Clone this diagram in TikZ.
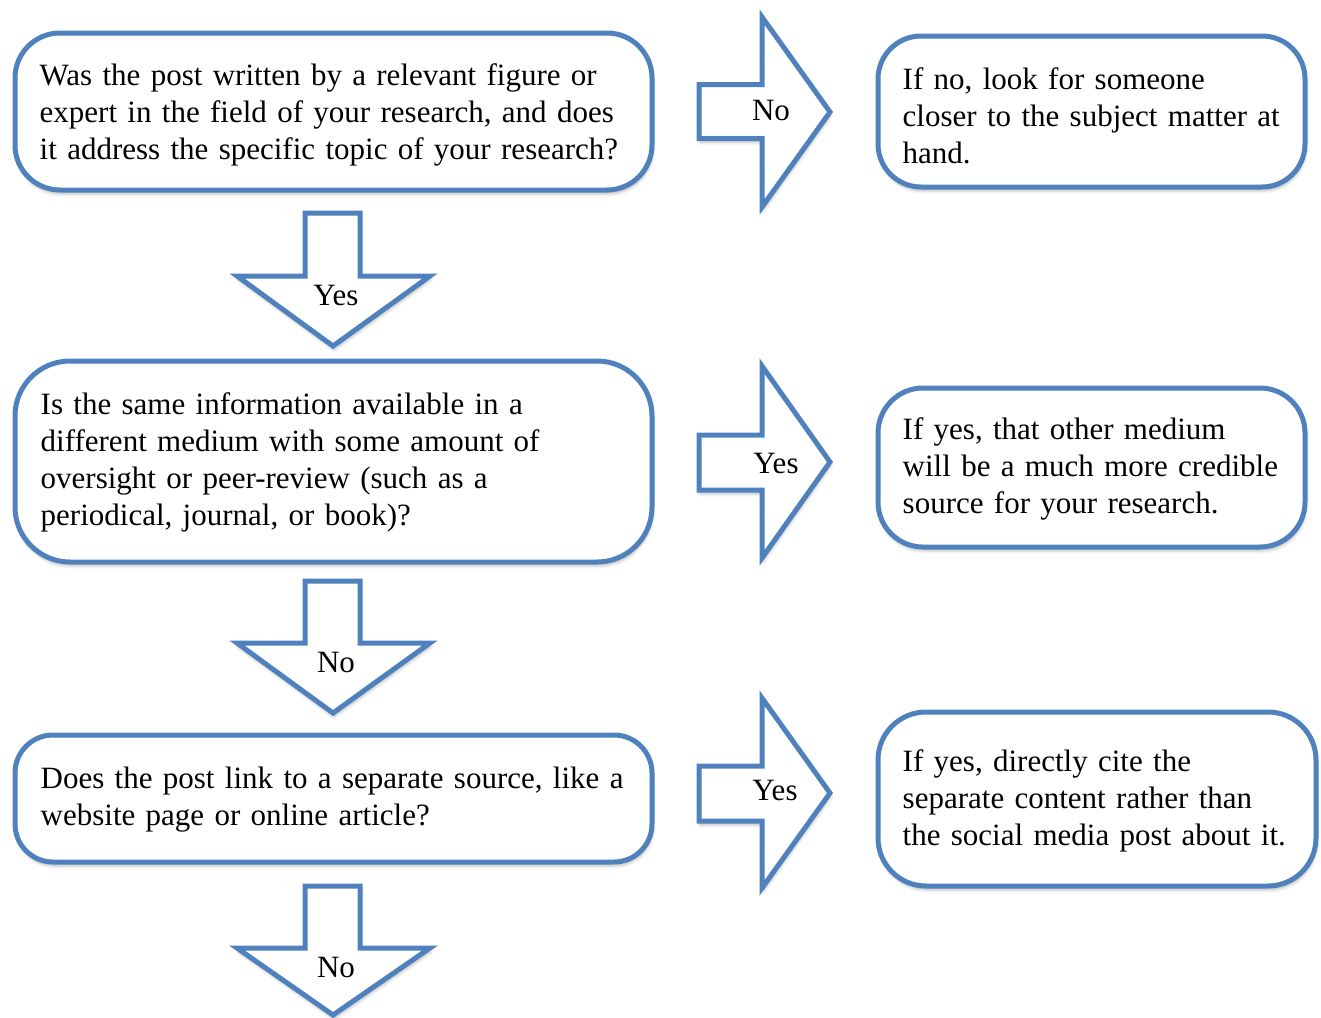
\documentclass[tikz,border=0pt]{standalone}
\usepackage{fontspec}
\setmainfont{Liberation Serif}
\usetikzlibrary{shadows.blur}
\definecolor{ablue}{HTML}{4F81BD}
\tikzset{
  softshadow/.style={blur shadow={shadow xshift=1pt, shadow yshift=-4pt, shadow blur radius=3pt, shadow opacity=25}},
  flowbox/.style={draw=ablue, line width=5pt, fill=white, inner sep=0pt, softshadow},
  boxtext/.style={anchor=west, align=left, inner sep=0pt, text width=#1, font=\fontsize{31}{37}\selectfont},
  blockarrow/.style={draw=ablue, line width=5pt, fill=white, line join=miter, softshadow},
  arrowlabel/.style={font=\fontsize{31}{37}\selectfont, inner sep=0pt}
}
\begin{document}
\begin{tikzpicture}[x=1pt, y=-1pt]
\useasboundingbox (0,0) rectangle (1321,1017);

% boxes
\node[flowbox, rounded corners=45pt, minimum width=637pt, minimum height=157pt] (q1) at (333.5,111.5) {};
\node[boxtext=620pt] (q1t) at ([xshift=27pt, yshift=-3.5pt]q1.west)
  {Was the post written by a relevant figure or\\expert in the field of your research, and does\\it address the specific topic of your research?};
\node[flowbox, rounded corners=43pt, minimum width=427pt, minimum height=151pt] (a1) at (1091.5,111.5) {};
\node[boxtext=420pt] (a1t) at ([xshift=27pt, yshift=-4pt]a1.west)
  {If no, look for someone\\closer to the subject matter at\\hand.};
\node[flowbox, rounded corners=55pt, minimum width=637pt, minimum height=201pt] (q2) at (333.5,461.5) {};
\node[boxtext=620pt] (q2t) at ([xshift=28pt, yshift=-1pt]q2.west)
  {Is the same information available in a\\different medium with some amount of\\oversight or peer-review (such as a\\periodical, journal, or book)?};
\node[flowbox, rounded corners=45pt, minimum width=427pt, minimum height=159pt] (a2) at (1091.5,467.5) {};
\node[boxtext=420pt] (a2t) at ([xshift=27pt, yshift=-1pt]a2.west)
  {If yes, that other medium\\will be a much more credible\\source for your research.};
\node[flowbox, rounded corners=38pt, minimum width=637pt, minimum height=127pt] (q3) at (333.5,798.5) {};
\node[boxtext=620pt] (q3t) at ([xshift=28pt, yshift=-1.5pt]q3.west)
  {Does the post link to a separate source, like a\\website page or online article?};
\node[flowbox, rounded corners=48pt, minimum width=438pt, minimum height=174pt] (a3) at (1097,799) {};
\node[boxtext=430pt] (a3t) at ([xshift=27pt, yshift=-2pt]a3.west)
  {If yes, directly cite the\\separate content rather than\\the social media post about it.};

% right block arrows
\draw[blockarrow] (699,84.5) -- (762,84.5) -- (762,17) -- (830,112) -- (762,207) -- (762,138.5) -- (699,138.5) -- cycle;
\draw[blockarrow] (699,435) -- (762,435) -- (762,366) -- (830,462) -- (762,558) -- (762,490) -- (699,490) -- cycle;
\draw[blockarrow] (699,766) -- (762,766) -- (762,698) -- (830,793) -- (762,888) -- (762,821) -- (699,821) -- cycle;

% down block arrows
\draw[blockarrow] (305,213) -- (360,213) -- (360,276) -- (430,276) -- (333,346) -- (237,276) -- (305,276) -- cycle;
\draw[blockarrow] (305,581) -- (360,581) -- (360,643) -- (430,643) -- (333,713) -- (237,643) -- (305,643) -- cycle;
\draw[blockarrow] (305,886) -- (360,886) -- (360,948) -- (430,948) -- (333,1015) -- (237,948) -- (305,948) -- cycle;

% labels
\node[arrowlabel] (l1) at (771,111) {No};
\node[arrowlabel] (l2) at (776,463) {Yes};
\node[arrowlabel] (l3) at (775,790) {Yes};
\node[arrowlabel] (l4) at (336,295) {Yes};
\node[arrowlabel] (l5) at (336,662) {No};
\node[arrowlabel] (l6) at (336,967) {No};
\end{tikzpicture}
\end{document}
